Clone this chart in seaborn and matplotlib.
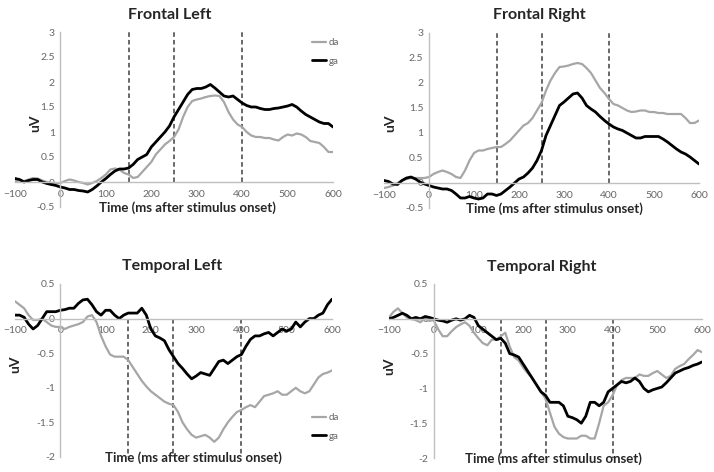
import numpy as np
import pandas as pd
import matplotlib
matplotlib.use("Agg")
import matplotlib.pyplot as plt
import seaborn as sns

## ERP waveforms, 10 ms steps from -100 to 600 ms
time_ms = list(range(-100, 601, 10))

frontal_left_da = [0.02, 0.03, 0.02, 0.05, 0.08, 0.07, 0.03, 0.0, -0.02, -0.03,
                   -0.02, 0.02, 0.05, 0.03, 0.0, -0.02, -0.05, -0.02, 0.02, 0.08,
                   0.15, 0.25, 0.27, 0.25, 0.18, 0.15, 0.08, 0.1, 0.2, 0.3,
                   0.4, 0.55, 0.65, 0.75, 0.82, 0.9, 1.05, 1.3, 1.5, 1.62,
                   1.65, 1.67, 1.7, 1.72, 1.73, 1.72, 1.6, 1.4, 1.25, 1.15,
                   1.1, 1.0, 0.93, 0.9, 0.9, 0.88, 0.88, 0.85, 0.83, 0.9,
                   0.95, 0.93, 0.97, 0.95, 0.9, 0.82, 0.8, 0.78, 0.7, 0.6, 0.6]
frontal_left_ga = [0.07, 0.05, 0.0, 0.03, 0.05, 0.05, 0.0, -0.03, -0.05, -0.07,
                   -0.1, -0.12, -0.15, -0.15, -0.17, -0.18, -0.2, -0.15, -0.08, 0.0,
                   0.07, 0.15, 0.22, 0.26, 0.26, 0.28, 0.35, 0.45, 0.5, 0.55,
                   0.7, 0.8, 0.9, 1.0, 1.12, 1.3, 1.45, 1.6, 1.75, 1.85,
                   1.87, 1.87, 1.9, 1.95, 1.88, 1.8, 1.72, 1.7, 1.72, 1.65,
                   1.58, 1.53, 1.5, 1.5, 1.47, 1.45, 1.45, 1.47, 1.48, 1.5,
                   1.52, 1.55, 1.5, 1.42, 1.35, 1.3, 1.25, 1.2, 1.17, 1.17, 1.1]

frontal_right_da = [-0.1, -0.08, -0.05, 0.0, 0.05, 0.08, 0.1, 0.1, 0.1, 0.1,
                    0.12, 0.18, 0.22, 0.25, 0.22, 0.18, 0.12, 0.1, 0.25, 0.45,
                    0.6, 0.65, 0.65, 0.68, 0.7, 0.72, 0.72, 0.78, 0.85, 0.95,
                    1.05, 1.15, 1.2, 1.3, 1.45, 1.6, 1.85, 2.05, 2.2, 2.32,
                    2.33, 2.35, 2.38, 2.4, 2.38, 2.3, 2.2, 2.05, 1.9, 1.8,
                    1.68, 1.58, 1.55, 1.5, 1.45, 1.42, 1.43, 1.45, 1.45, 1.42,
                    1.42, 1.4, 1.4, 1.38, 1.38, 1.38, 1.38, 1.3, 1.2, 1.2, 1.25]
frontal_right_ga = [0.05, 0.03, -0.02, -0.03, 0.05, 0.1, 0.12, 0.08, 0.02, -0.02,
                    -0.05, -0.08, -0.1, -0.12, -0.12, -0.15, -0.22, -0.3, -0.3, -0.27,
                    -0.3, -0.32, -0.3, -0.22, -0.22, -0.25, -0.22, -0.15, -0.08, 0.0,
                    0.08, 0.12, 0.2, 0.3, 0.45, 0.65, 0.95, 1.15, 1.35, 1.55,
                    1.62, 1.7, 1.78, 1.8, 1.7, 1.55, 1.48, 1.42, 1.33, 1.25,
                    1.18, 1.12, 1.08, 1.05, 1.0, 0.95, 0.9, 0.9, 0.93, 0.93,
                    0.93, 0.93, 0.88, 0.82, 0.75, 0.68, 0.62, 0.58, 0.52, 0.45, 0.38]

temporal_left_da = [0.25, 0.2, 0.15, 0.05, -0.02, -0.02, 0.0, -0.05, -0.1, -0.12,
                    -0.12, -0.15, -0.12, -0.1, -0.08, -0.05, 0.03, 0.05, -0.05, -0.25,
                    -0.4, -0.52, -0.55, -0.55, -0.55, -0.6, -0.7, -0.8, -0.9, -0.98,
                    -1.05, -1.1, -1.15, -1.2, -1.23, -1.25, -1.35, -1.5, -1.6, -1.68,
                    -1.72, -1.7, -1.68, -1.72, -1.78, -1.72, -1.6, -1.5, -1.42, -1.35,
                    -1.32, -1.28, -1.25, -1.28, -1.2, -1.12, -1.1, -1.08, -1.05, -1.1,
                    -1.1, -1.05, -1.0, -1.05, -1.08, -1.05, -0.95, -0.85, -0.8, -0.78, -0.75]
temporal_left_ga = [0.05, 0.05, 0.02, -0.08, -0.15, -0.1, 0.0, 0.1, 0.1, 0.1,
                    0.12, 0.13, 0.15, 0.15, 0.22, 0.27, 0.28, 0.2, 0.1, 0.05,
                    0.12, 0.12, 0.05, 0.0, 0.05, 0.08, 0.08, 0.08, 0.15, 0.05,
                    -0.15, -0.25, -0.28, -0.32, -0.45, -0.55, -0.65, -0.72, -0.8, -0.87,
                    -0.83, -0.78, -0.8, -0.82, -0.72, -0.62, -0.6, -0.65, -0.6, -0.55,
                    -0.52, -0.4, -0.3, -0.25, -0.25, -0.22, -0.2, -0.25, -0.2, -0.15,
                    -0.18, -0.15, -0.05, -0.12, -0.05, 0.0, 0.0, 0.05, 0.08, 0.2, 0.28]

temporal_right_da = [0.02, 0.1, 0.15, 0.08, 0.02, 0.0, -0.02, -0.05, 0.0, -0.03,
                     -0.02, -0.15, -0.25, -0.25, -0.18, -0.12, -0.08, -0.05, -0.1, -0.2,
                     -0.28, -0.35, -0.38, -0.3, -0.3, -0.25, -0.2, -0.4, -0.55, -0.6,
                     -0.7, -0.78, -0.85, -0.95, -1.05, -1.15, -1.35, -1.55, -1.65, -1.7,
                     -1.72, -1.72, -1.72, -1.68, -1.68, -1.72, -1.72, -1.5, -1.25, -1.2,
                     -1.1, -0.95, -0.88, -0.85, -0.85, -0.85, -0.8, -0.82, -0.82, -0.78,
                     -0.75, -0.8, -0.85, -0.82, -0.72, -0.68, -0.65, -0.58, -0.52, -0.45, -0.48]
temporal_right_ga = [0.0, 0.02, 0.05, 0.08, 0.05, 0.0, 0.02, 0.0, 0.03, 0.02,
                     0.0, -0.02, -0.03, -0.05, -0.02, 0.0, -0.02, 0.0, 0.05, 0.02,
                     -0.1, -0.15, -0.2, -0.25, -0.3, -0.28, -0.35, -0.5, -0.52, -0.55,
                     -0.65, -0.75, -0.85, -0.95, -1.05, -1.1, -1.2, -1.2, -1.2, -1.25,
                     -1.4, -1.42, -1.45, -1.5, -1.4, -1.2, -1.2, -1.25, -1.2, -1.05,
                     -1.0, -0.95, -0.9, -0.92, -0.9, -0.85, -0.9, -1.0, -1.05, -1.02,
                     -1.0, -0.98, -0.92, -0.85, -0.78, -0.75, -0.72, -0.7, -0.67, -0.65, -0.62]

window_edges = [150, 250, 400]

panels = [
    ("Frontal Left", frontal_left_da, frontal_left_ga),
    ("Frontal Right", frontal_right_da, frontal_right_ga),
    ("Temporal Left", temporal_left_da, temporal_left_ga),
    ("Temporal Right", temporal_right_da, temporal_right_ga),
]

sns.set_style("white")
plt.rcParams['font.family'] = ['Lato', 'DejaVu Sans']

W, H = 714, 472
fig = plt.figure(figsize=(W / 100, H / 100), dpi=100)

# pixel boxes of each plot area: (left, right, top, bottom), ylim, title xy, xlabel xy, ylabel xy
layout = [
    ((15, 333, 32, 207), (-0.5, 3), (170, 15), (187, 208), (35, 123)),
    ((384, 699, 33, 208), (-0.5, 3), (539, 15), (554, 209), (390, 123)),
    ((15, 332, 284, 457), (-2, 0.5), (172, 266), (193, 458), (15, 364)),
    ((389, 702, 284, 458), (-2, 0.5), (542, 267), (553, 459), (389, 366)),
]

gray = '#a6a6a6'
for i, ((title, da, ga), (box, ylim, txy, xlxy, ylxy)) in enumerate(zip(panels, layout)):
    l, r, t, b = box
    ax = fig.add_axes([l / W, 1 - b / H, (r - l) / W, (b - t) / H])
    df = pd.DataFrame({'time': time_ms, 'da': da, 'ga': ga})

    sns.lineplot(data=df, x='time', y='da', color=gray, linewidth=1.6, ax=ax, label='da')
    sns.lineplot(data=df, x='time', y='ga', color='black', linewidth=2.0, ax=ax, label='ga')

    for x in window_edges:
        ax.vlines(x, 0, ylim[1] if ylim[1] > 0.5 else ylim[0], colors='#404040',
                  linestyles=(0, (3, 2)), linewidth=1.1, zorder=1)

    ax.set_xlim(-100, 600)
    ax.set_ylim(*ylim)
    ax.set_xticks(range(-100, 601, 100))
    yt = np.arange(ylim[0], ylim[1] + 0.01, 0.5)
    ax.set_yticks(yt)
    ax.set_yticklabels([f"{v:g}" for v in yt])
    ax.set_xlabel('')
    ax.set_ylabel('')

    for s in ['top', 'right']:
        ax.spines[s].set_visible(False)
    ax.spines['left'].set_position(('data', 0))
    ax.spines['bottom'].set_position(('data', 0))
    for s in ['left', 'bottom']:
        ax.spines[s].set_color('#bfbfbf')
        ax.spines[s].set_linewidth(1.0)
    ax.tick_params(axis='x', direction='inout', length=5, color='#bfbfbf',
                   labelsize=7.5, labelcolor='#666666', pad=3)
    ax.tick_params(axis='y', length=0, labelsize=7.5, labelcolor='#666666', pad=4)
    ax.patch.set_alpha(0)

    if i in (0, 2):
        top_row = 38 if i == 0 else 413
        ax.legend(loc='upper left', bbox_to_anchor=((312 - l) / (r - l), (b - top_row) / (b - t)),
                  frameon=False, fontsize=7, handlelength=1.4, handletextpad=0.3,
                  labelspacing=1.0, borderaxespad=0, borderpad=0, labelcolor='#666666')
    else:
        ax.get_legend().remove()

    fig.text(txy[0] / W, 1 - txy[1] / H, title, ha='center', va='center',
             fontsize=11.5, fontweight='bold')
    fig.text(xlxy[0] / W, 1 - xlxy[1] / H, 'Time (ms after stimulus onset)',
             ha='center', va='center', fontsize=9.5, fontweight='bold')
    fig.text(ylxy[0] / W, 1 - ylxy[1] / H, 'uV', ha='center', va='center',
             rotation=90, fontsize=10, fontweight='bold')

plt.savefig('out.png', dpi=100)
